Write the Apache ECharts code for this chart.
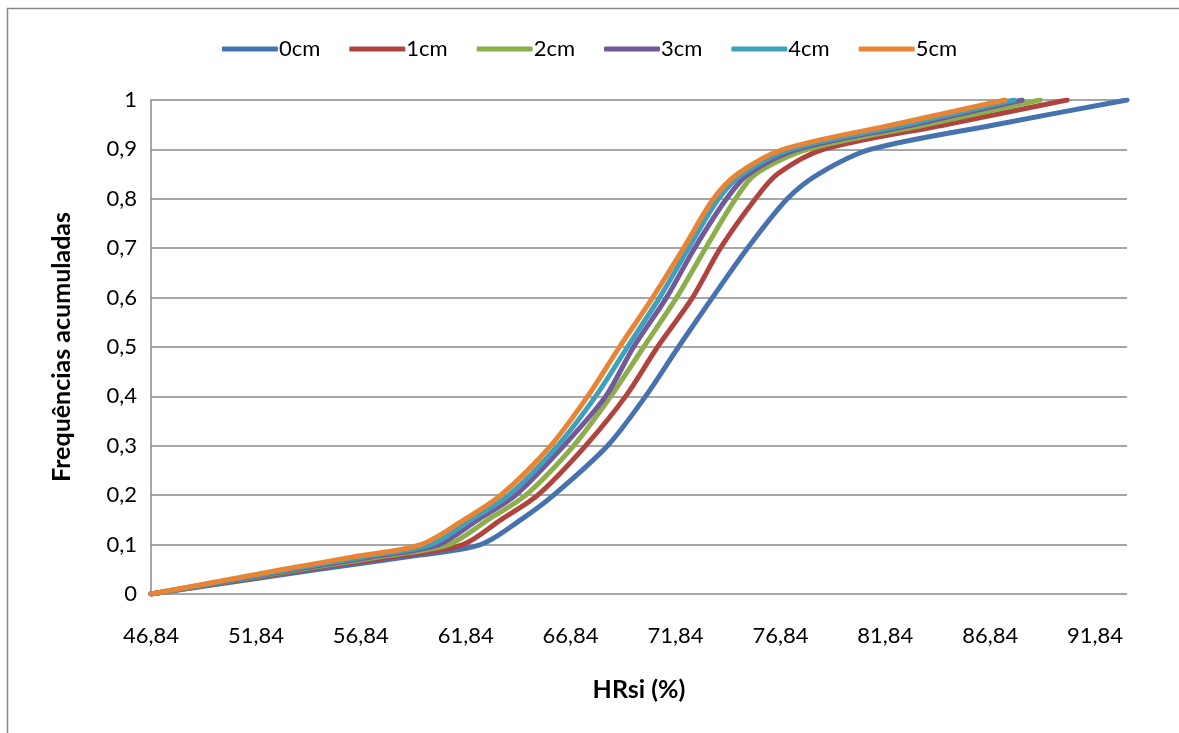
<!DOCTYPE html>
<html>
<head>
<meta charset="utf-8">
<script src="https://cdn.jsdelivr.net/npm/echarts@6/dist/echarts.min.js"></script>
<style>
html,body{margin:0;padding:0;background:#fff;}
#c{width:1179px;height:733px;}
</style>
</head>
<body>
<div id="c"></div>
<script>
var seriesNames = ['0cm','1cm','2cm','3cm','4cm','5cm'];
var freqLevels = [0, 0.05, 0.075, 0.1, 0.15, 0.2, 0.3, 0.4, 0.5, 0.6, 0.7, 0.8, 0.85, 0.9, 0.95, 1.0];
var hrsi0cm = [46.84, 54.84, 58.98, 62.55, 64.46, 66.03, 68.60, 70.41, 71.98, 73.60, 75.27, 77.17, 78.65, 81.13, 87.08, 93.36];
var hrsi1cm = [46.84, 54.27, 58.27, 61.70, 63.51, 65.27, 67.55, 69.46, 70.98, 72.65, 73.98, 75.65, 76.70, 78.89, 84.70, 90.51];
var hrsi2cm = [46.84, 53.98, 57.70, 61.03, 62.89, 64.70, 66.98, 68.75, 70.32, 71.89, 73.27, 74.70, 75.65, 78.13, 83.75, 89.22];
var hrsi3cm = [46.84, 53.75, 57.32, 60.55, 62.41, 64.22, 66.51, 68.51, 69.84, 71.41, 72.75, 74.27, 75.32, 77.65, 83.17, 88.36];
var hrsi4cm = [46.84, 53.51, 56.94, 60.17, 62.08, 63.89, 66.22, 68.03, 69.55, 71.08, 72.46, 73.89, 75.03, 77.32, 82.79, 87.98];
var hrsi5cm = [46.84, 53.17, 56.46, 59.70, 61.75, 63.51, 65.89, 67.65, 69.17, 70.75, 72.22, 73.65, 74.79, 76.98, 82.22, 87.55];
var xTickMin = 46.84, xTickStep = 5, xMax = 93.36;
var yTickLabels = ['0','0,1','0,2','0,3','0,4','0,5','0,6','0,7','0,8','0,9','1'];

var allX = [hrsi0cm, hrsi1cm, hrsi2cm, hrsi3cm, hrsi4cm, hrsi5cm];
var colors = ['#4672B0','#B1433F','#8DAF4B','#72599A','#3FA0BC','#E88535'];
var FONT = 'Lato';

var chart = echarts.init(document.getElementById('c'), null, {renderer:'canvas'});
var series = seriesNames.map(function(n, i){
  return {
    name: n, type: 'line', smooth: 0.3, showSymbol: false, symbol: 'none',
    data: allX[i].map(function(x, j){ return [x, freqLevels[j]]; }),
    lineStyle: {width: 5, color: colors[i], cap: 'round', join: 'round'},
    itemStyle: {color: colors[i]},
    z: 2 + i
  };
});

chart.setOption({
  animation: false,
  backgroundColor: '#fff',
  graphic: [{
    type: 'rect', left: 5, top: 6, silent: true,
    shape: {x: 0, y: 0, width: 1200, height: 760},
    style: {fill: 'none', stroke: '#888', lineWidth: 1.5},
    z: -1
  }],
  legend: {
    data: seriesNames, top: 33, left: 'center', itemGap: 29,
    itemWidth: 56, itemHeight: 5,
    icon: 'roundRect',
    textStyle: {fontFamily: FONT, fontSize: 22, color: '#000', padding: [0,0,0,-4]}
  },
  grid: {left: 151, right: 52, top: 100, bottom: 139, containLabel: false},
  xAxis: {
    type: 'value', min: xTickMin, max: xMax, interval: xTickStep,
    name: 'HRsi (%)', nameLocation: 'middle', nameGap: 83,
    nameTextStyle: {fontFamily: FONT, fontSize: 25, fontWeight: 'bold', color: '#000'},
    axisLine: {show: false}, axisTick: {show: false}, splitLine: {show: false},
    axisLabel: {
      showMaxLabel: false, margin: 31,
      fontFamily: FONT, fontSize: 22, color: '#000',
      formatter: function(v){ return v.toFixed(2).replace('.', ','); }
    }
  },
  yAxis: {
    type: 'value', min: 0, max: 1, interval: 0.1,
    name: 'Frequências acumuladas', nameLocation: 'middle', nameGap: 77,
    nameTextStyle: {fontFamily: FONT, fontSize: 25, fontWeight: 'bold', color: '#000'},
    axisLine: {show: true, lineStyle: {color: '#888', width: 1.5}},
    axisTick: {show: false},
    splitLine: {show: true, lineStyle: {color: '#888', width: 1.5}},
    axisLabel: {
      margin: 14, fontFamily: FONT, fontSize: 22, color: '#000',
      formatter: function(v){ return yTickLabels[Math.round(v*10)]; }
    }
  },
  series: series
});
</script>
</body>
</html>
